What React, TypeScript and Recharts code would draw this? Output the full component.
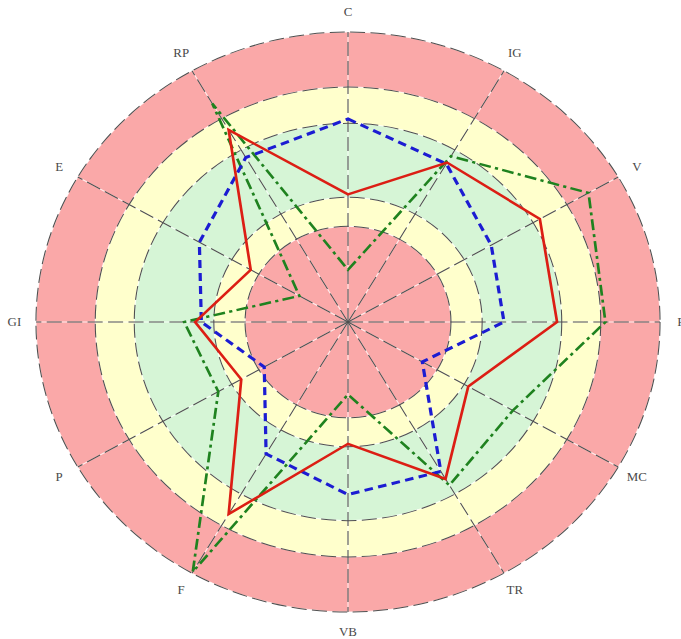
import {
  PolarAngleAxis,
  PolarGrid,
  PolarRadiusAxis,
  Radar,
  RadarChart,
  RadialBar,
  RadialBarChart,
} from "recharts";

// axes, clockwise from the top
const categories = ["C", "IG", "V", "R", "MC", "TR", "VB", "F", "P", "GI", "E", "RP"];

const redValues = [44, 63.5, 71, 67, 44.5, 62.5, 42, 76.5, 39.5, 49, 36, 76.5];
const blueValues = [70, 63, 53, 50, 27.5, 59.5, 59.5, 52.5, 31, 47, 55, 65.5];
const greenValues = [18, 66, 89, 82.5, 61, 65, 25, 99.5, 48, 52.5, 18, 87];

// coloured rings: upper edge of each band, inside out
const bandEdges = [33, 43, 68.5, 81, 100];
const bandColors = ["#FAA8A8", "#FFFFCC", "#D6F5D6", "#FFFFCC", "#FAA8A8"];

const W = 681;
const H = 639;
const CX = 348;
const CY = 322;
const OUTER = 290;

const rows = categories.map((cat, i) => ({
  cat,
  red: redValues[i],
  blue: blueValues[i],
  green: greenValues[i],
}));

const bandRow: Record<string, number | string> = { name: "all" };
bandEdges.forEach((edge, i) => {
  bandRow[`band${i}`] = edge - (i === 0 ? 0 : bandEdges[i - 1]);
});

const renderTick = (props: any) => {
  const { x, y, payload } = props;
  return (
    <text
      x={x}
      y={y}
      textAnchor="middle"
      dominantBaseline="central"
      fontFamily="'Liberation Serif', 'DejaVu Serif', serif"
      fontSize={12}
      fill="#4a4a4a"
    >
      {payload.value}
    </text>
  );
};

export default function App() {
  return (
    <div
      style={{
        position: "absolute",
        left: 0,
        top: 0,
        width: W,
        height: H,
        overflow: "hidden",
        background: "#fff",
      }}
    >
      <div
        style={{
          position: "absolute",
          left: 0,
          top: 0,
          width: W,
          height: H,
          transform: "scaleX(1.076)",
          transformOrigin: `${CX}px ${CY}px`,
        }}
      >
        <div style={{ position: "absolute", left: 0, top: 0 }}>
          <RadialBarChart
            width={W}
            height={H}
            cx={CX}
            cy={CY}
            innerRadius={0}
            outerRadius={OUTER}
            data={[bandRow]}
            layout="centric"
            startAngle={90}
            endAngle={-270}
            barCategoryGap={0}
            barGap={0}
          >
            <PolarAngleAxis type="category" dataKey="name" tick={false} axisLine={false} tickLine={false} />
            <PolarRadiusAxis type="number" domain={[0, 100]} tick={false} axisLine={false} />
            {bandColors.map((color, i) => (
              <RadialBar
                key={i}
                dataKey={`band${i}`}
                stackId="bands"
                fill={color}
                isAnimationActive={false}
              />
            ))}
          </RadialBarChart>
        </div>
        <div style={{ position: "absolute", left: 0, top: 0 }}>
          <RadarChart
            width={W}
            height={H}
            cx={CX}
            cy={CY}
            outerRadius={OUTER}
            data={rows}
            startAngle={90}
            endAngle={-270}
          >
            <PolarGrid gridType="circle" stroke="#ffffff" strokeOpacity={0.8} />
            <PolarGrid gridType="circle" stroke="#4f4f4f" strokeDasharray="14 5" />
            <PolarAngleAxis
              dataKey="cat"
              tick={renderTick}
              tickLine={false}
              axisLine={false}
              tickSize={20}
            />
            <PolarRadiusAxis domain={[0, 100]} ticks={bandEdges} tick={false} axisLine={false} />
            <Radar
              dataKey="green"
              stroke="#1F821F"
              strokeWidth={2.5}
              strokeDasharray="11 4 3 4"
              fill="none"
              fillOpacity={0}
              dot={false}
              isAnimationActive={false}
            />
            <Radar
              dataKey="blue"
              stroke="#1C1CD2"
              strokeWidth={3}
              strokeDasharray="8 5"
              fill="none"
              fillOpacity={0}
              dot={false}
              isAnimationActive={false}
            />
            <Radar
              dataKey="red"
              stroke="#DC1E14"
              strokeWidth={2.5}
              fill="none"
              fillOpacity={0}
              dot={false}
              isAnimationActive={false}
            />
          </RadarChart>
        </div>
      </div>
    </div>
  );
}
